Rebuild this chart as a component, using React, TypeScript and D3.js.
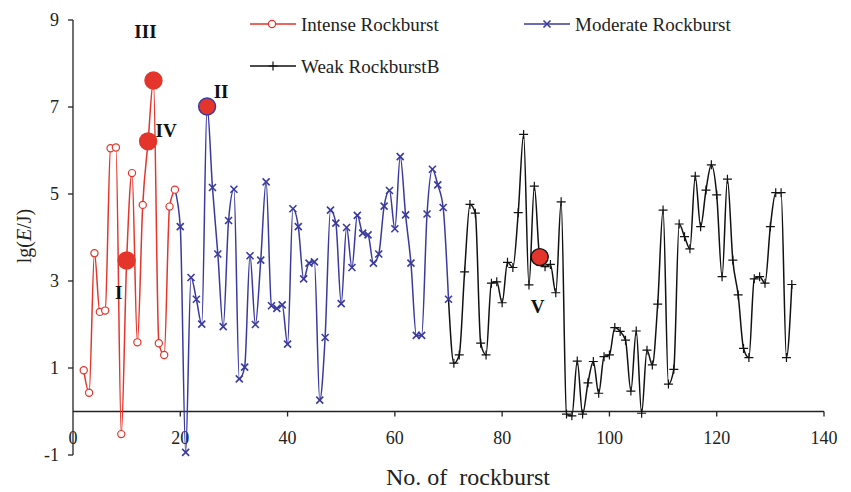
import React, { useEffect, useRef } from 'react';
import * as d3 from 'd3';

// lg(E/J) of each rockburst; x is the rockburst number
const intenseStart = 2;
const intenseValues = [0.95, 0.43, 3.64, 2.29, 2.32, 6.05, 6.07, -0.52, 3.47, 5.48, 1.59, 4.75, 6.21, 7.61, 1.57, 1.30, 4.71, 5.10];

const moderateStart = 20;
const moderateValues = [
    4.25, -0.94, 3.08, 2.58, 2.01, 7.01, 5.15, 3.62, 1.95, 4.39,
    5.11, 0.75, 1.02, 3.58, 2.00, 3.48, 5.28, 2.43, 2.37, 2.45,
    1.55, 4.66, 4.25, 3.05, 3.41, 3.44, 0.26, 1.70, 4.63, 4.33,
    2.48, 4.23, 3.31, 4.51, 4.10, 4.06, 3.41, 3.62, 4.72, 5.08,
    4.20, 5.86, 4.52, 3.41, 1.75, 1.75, 4.54, 5.57, 5.21, 4.69,
    2.58
];

const weakStart = 71;
const weakValues = [
    1.11, 1.30, 3.21, 4.76, 4.56, 1.57, 1.30, 2.95, 2.98, 2.50,
    3.43, 3.31, 4.57, 6.37, 2.91, 5.18, 3.55, 3.33, 3.38, 2.73,
    4.82, -0.06, -0.10, 1.16, -0.06, 0.66, 1.15, 0.42, 1.26, 1.30,
    1.93, 1.84, 1.64, 0.47, 1.85, -0.04, 1.41, 1.07, 2.47, 4.63,
    0.63, 0.97, 4.31, 4.02, 3.74, 5.41, 4.25, 5.09, 5.67, 4.98,
    3.10, 5.34, 3.48, 2.68, 1.45, 1.24, 3.05, 3.10, 2.95, 4.25,
    5.03, 5.03, 1.24, 2.92
];

const xTicks = [0, 20, 40, 60, 80, 100, 120, 140];
const yTicks = [-1, 1, 3, 5, 7, 9];

// highlighted rockbursts (number, roman label)
const eventIds = [10, 15, 14, 25, 87];
const eventLabels = ['I', 'III', 'IV', 'II', 'V'];

const RED = '#e3352b';
const BLUE = '#3a3a9e';
const BLACK = '#111';
const FONT = '"Liberation Serif", "Times New Roman", serif';

const App = () => {
    const svgRef = useRef(null);

    useEffect(() => {
        const width = 851;
        const height = 492;

        const svg = d3.select(svgRef.current)
            .attr('width', width)
            .attr('height', height);
        svg.selectAll('*').remove();

        const x = d3.scaleLinear().domain([0, 140]).range([73, 824]);
        const y = d3.scaleLinear().domain([-1, 9]).range([455, 20]);

        const toPoints = (start, values) => values.map((v, i) => ({ n: start + i, v }));
        const intense = toPoints(intenseStart, intenseValues);
        const moderate = toPoints(moderateStart, moderateValues);
        const weak = toPoints(weakStart, weakValues);
        const all = intense.concat(moderate, weak);

        // smoothed line, without much overshoot
        const line = d3.line()
            .x(d => x(d.n))
            .y(d => y(d.v))
            .curve(d3.curveMonotoneX);

        // axes
        const axes = svg.append('g').attr('stroke', '#222').attr('stroke-width', 1.3);
        axes.append('line')
            .attr('x1', x(0)).attr('x2', x(0))
            .attr('y1', y(9)).attr('y2', y(-1));
        axes.append('line')
            .attr('x1', x(0)).attr('x2', x(140))
            .attr('y1', y(0)).attr('y2', y(0));
        axes.selectAll('.ytick')
            .data(yTicks)
            .enter().append('line')
            .attr('x1', x(0) - 5).attr('x2', x(0))
            .attr('y1', d => y(d)).attr('y2', d => y(d));
        axes.selectAll('.xtick')
            .data(xTicks.slice(1))
            .enter().append('line')
            .attr('x1', d => x(d)).attr('x2', d => x(d))
            .attr('y1', y(0)).attr('y2', y(0) + 5);

        svg.selectAll('.ylab')
            .data(yTicks)
            .enter().append('text')
            .attr('x', x(0) - 14)
            .attr('y', d => y(d))
            .attr('dy', '0.35em')
            .attr('text-anchor', 'end')
            .attr('font-family', FONT)
            .attr('font-size', 18)
            .attr('fill', '#222')
            .text(d => d);

        svg.selectAll('.xlab')
            .data(xTicks)
            .enter().append('text')
            .attr('x', d => x(d))
            .attr('y', 444)
            .attr('text-anchor', 'middle')
            .attr('font-family', FONT)
            .attr('font-size', 18)
            .attr('fill', '#222')
            .text(d => d);

        svg.append('text')
            .attr('x', 386)
            .attr('y', 485)
            .attr('font-family', FONT)
            .attr('font-size', 24)
            .attr('fill', '#222')
            .attr('xml:space', 'preserve')
            .style('white-space', 'pre')
            .text('No. of  rockburst');

        const yTitle = svg.append('text')
            .attr('transform', 'translate(31,236) rotate(-90)')
            .attr('text-anchor', 'middle')
            .attr('font-family', FONT)
            .attr('font-size', 20)
            .attr('fill', '#222');
        yTitle.append('tspan').text('lg(');
        yTitle.append('tspan').attr('font-style', 'italic').text('E');
        yTitle.append('tspan').text('/J)');

        // series lines, each joined to the last point of the previous one
        svg.append('path')
            .attr('d', line(intense))
            .attr('fill', 'none').attr('stroke', RED).attr('stroke-width', 1.5);
        svg.append('path')
            .attr('d', line([intense[intense.length - 1]].concat(moderate)))
            .attr('fill', 'none').attr('stroke', BLUE).attr('stroke-width', 1.5);
        svg.append('path')
            .attr('d', line([moderate[moderate.length - 1]].concat(weak)))
            .attr('fill', 'none').attr('stroke', BLACK).attr('stroke-width', 1.5);

        const crossPath = 'M-3.5,-3.5L3.5,3.5M-3.5,3.5L3.5,-3.5';
        const plusPath = 'M-4.5,0H4.5M0,-4.5V4.5';

        svg.selectAll('.m-intense')
            .data(intense)
            .enter().append('circle')
            .attr('cx', d => x(d.n)).attr('cy', d => y(d.v))
            .attr('r', 3.6)
            .attr('fill', '#fff').attr('stroke', RED).attr('stroke-width', 1.2);

        svg.selectAll('.m-moderate')
            .data(moderate)
            .enter().append('path')
            .attr('transform', d => `translate(${x(d.n)},${y(d.v)})`)
            .attr('d', crossPath)
            .attr('stroke', BLUE).attr('stroke-width', 1.6);

        svg.selectAll('.m-weak')
            .data(weak)
            .enter().append('path')
            .attr('transform', d => `translate(${x(d.n)},${y(d.v)})`)
            .attr('d', plusPath)
            .attr('stroke', BLACK).attr('stroke-width', 1.2);

        // highlighted events
        const labelOffset = { I: [-8, 32], III: [-8, -49], IV: [18, -11], II: [14, -15], V: [-2, 49] };
        eventIds.forEach((n, i) => {
            const p = all.find(d => d.n === n);
            const label = eventLabels[i];
            const outline = n >= weakStart ? BLACK : n >= moderateStart ? BLUE : RED;
            svg.append('circle')
                .attr('cx', x(p.n)).attr('cy', y(p.v))
                .attr('r', 8.5)
                .attr('fill', RED)
                .attr('stroke', outline)
                .attr('stroke-width', 1.4);
            const [dx, dy] = labelOffset[label];
            svg.append('text')
                .attr('x', x(p.n) + dx)
                .attr('y', y(p.v) + dy)
                .attr('dy', '0.35em')
                .attr('text-anchor', 'middle')
                .attr('font-family', FONT)
                .attr('font-weight', 'bold')
                .attr('font-size', 19)
                .attr('fill', '#111')
                .text(label);
        });

        // legend
        const legend = [
            { name: 'Intense Rockburst', color: RED, kind: 'circle', lx: 250, ly: 24 },
            { name: 'Moderate Rockburst', color: BLUE, kind: 'cross', lx: 524, ly: 24 },
            { name: 'Weak RockburstB', color: BLACK, kind: 'plus', lx: 250, ly: 66 }
        ];
        legend.forEach(item => {
            const g = svg.append('g').attr('transform', `translate(${item.lx},${item.ly})`);
            g.append('line')
                .attr('x1', 0).attr('x2', 46)
                .attr('stroke', item.color).attr('stroke-width', 1.5);
            if (item.kind === 'circle') {
                g.append('circle').attr('cx', 22).attr('r', 3.6)
                    .attr('fill', '#fff').attr('stroke', item.color).attr('stroke-width', 1.2);
            } else {
                g.append('path')
                    .attr('transform', 'translate(23,0)')
                    .attr('d', item.kind === 'cross' ? crossPath : plusPath)
                    .attr('stroke', item.color)
                    .attr('stroke-width', item.kind === 'cross' ? 1.6 : 1.2);
            }
            g.append('text')
                .attr('x', 51)
                .attr('dy', '0.35em')
                .attr('font-family', FONT)
                .attr('font-size', 19)
                .attr('fill', '#222')
                .text(item.name);
        });
    }, []);

    return (
        <svg ref={svgRef} style={{ position: 'absolute', left: 0, top: 0, display: 'block', background: '#fff' }}></svg>
    );
};

export default App;
